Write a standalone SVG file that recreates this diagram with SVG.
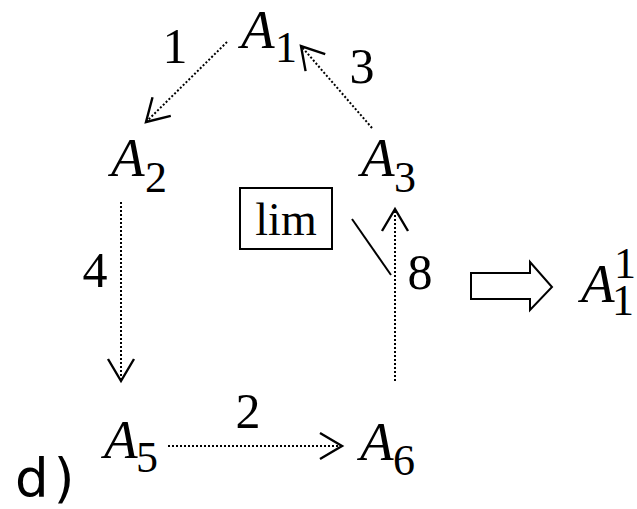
<svg xmlns="http://www.w3.org/2000/svg" width="637" height="509" viewBox="0 0 637 509">
  <style>
    .var { font-family: "Liberation Serif", "Times New Roman", serif; font-style: italic; font-size: 55px; fill: #000; }
    .sub { font-family: "Liberation Serif", "Times New Roman", serif; font-size: 44px; fill: #000; }
    .num { font-family: "Liberation Serif", "Times New Roman", serif; font-size: 50px; fill: #000; }
    .lim { font-family: "Liberation Serif", "Times New Roman", serif; font-size: 46px; fill: #000; }
    .tag { font-family: "DejaVu Sans", "Liberation Sans", sans-serif; font-size: 53px; fill: #000; letter-spacing: 5px; }
    .dotted { fill: none; stroke: #000; stroke-width: 2; stroke-dasharray: 2 2; marker-end: url(#open-head); }
    .solid { fill: none; stroke: #000; stroke-width: 2; }
  </style>
  <defs>
    <marker id="open-head" markerUnits="userSpaceOnUse" viewBox="-26 -16 30 32" refX="0" refY="0" markerWidth="30" markerHeight="32" orient="auto" overflow="visible">
      <path d="M -22 -13 L 0 0 L -22 13" fill="none" stroke="#000" stroke-width="2.4" stroke-dasharray="none"/>
    </marker>
  </defs>
  <rect width="637" height="509" fill="#fff"/>

  <!-- transitions between the states -->
  <g id="connectors">
    <line class="dotted" x1="227" y1="42" x2="146" y2="122"/>
    <line class="dotted" x1="372" y1="128" x2="301" y2="46"/>
    <line class="dotted" x1="121" y1="202" x2="121" y2="381"/>
    <line class="dotted" x1="168" y1="446" x2="342" y2="446"/>
    <line class="dotted" x1="395" y1="381" x2="395" y2="209"/>
    <line class="solid" x1="352" y1="219" x2="391" y2="275"/>
  </g>

  <!-- edge labels -->
  <g id="labels">
    <text class="num" x="175" y="63" text-anchor="middle">1</text>
    <text class="num" x="362" y="83" text-anchor="middle">3</text>
    <text class="num" x="95" y="287" text-anchor="middle">4</text>
    <text class="num" x="248" y="428" text-anchor="middle">2</text>
    <text class="num" x="420" y="289" text-anchor="middle">8</text>
  </g>

  <g id="A1">
    <text class="var" x="241" y="48">A</text>
    <text class="sub" x="275" y="62">1</text>
  </g>
  <g id="A2">
    <text class="var" x="111" y="176">A</text>
    <text class="sub" x="145" y="192">2</text>
  </g>
  <g id="A3">
    <text class="var" x="361" y="176">A</text>
    <text class="sub" x="394" y="192">3</text>
  </g>
  <g id="A5">
    <text class="var" x="104" y="458">A</text>
    <text class="sub" x="136" y="472">5</text>
  </g>
  <g id="A6">
    <text class="var" x="360" y="460">A</text>
    <text class="sub" x="393" y="475">6</text>
  </g>

  <g id="lim-box">
    <rect x="240" y="188" width="92" height="61" fill="#fff" stroke="#000" stroke-width="2"/>
    <text class="lim" x="286" y="235" text-anchor="middle">lim</text>
  </g>

  <g id="implies">
    <polygon points="471,273 530,273 530,262 552,287 530,310 530,299 471,299" fill="#fff" stroke="#000" stroke-width="2"/>
  </g>

  <g id="A1-1">
    <text class="var" x="581" y="302">A</text>
    <text class="sub" x="612" y="315">1</text>
    <text class="sub" x="614" y="278">1</text>
  </g>

  <g id="caption">
    <text class="tag" x="15" y="497">d)</text>
  </g>
</svg>
